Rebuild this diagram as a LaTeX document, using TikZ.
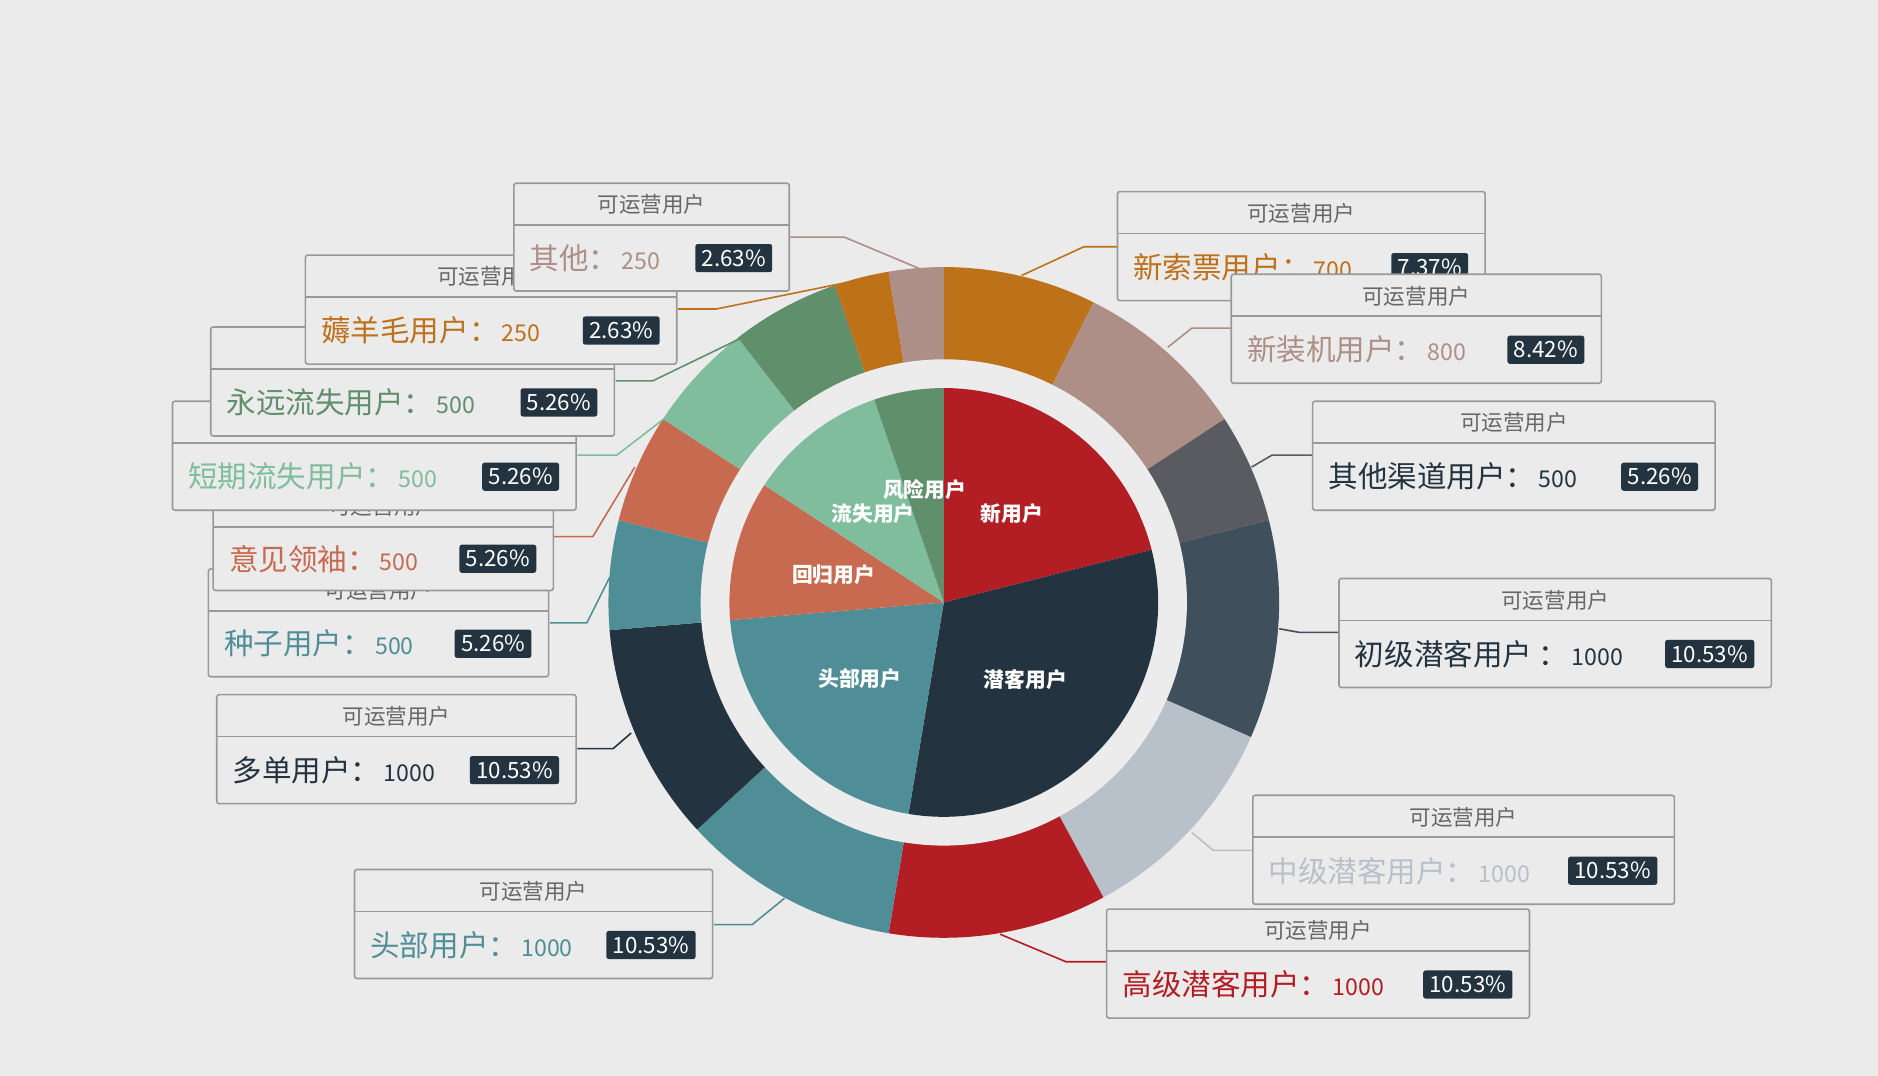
\documentclass[tikz,border=0pt]{standalone}
\usepackage{fontspec}
\setmainfont{Noto Sans CJK SC}
\definecolor{bg}{HTML}{EBEBEB}
\definecolor{cA}{HTML}{BD7119}
\definecolor{cB}{HTML}{AE8F87}
\definecolor{cC}{HTML}{5A5B60}
\definecolor{cD}{HTML}{3F4F5B}
\definecolor{cE}{HTML}{B8C0CA}
\definecolor{cF}{HTML}{B31D24}
\definecolor{cG}{HTML}{4F8E97}
\definecolor{cH}{HTML}{233440}
\definecolor{cI}{HTML}{C76A50}
\definecolor{cJ}{HTML}{7FBD9D}
\definecolor{cK}{HTML}{5F8F6B}
\tikzset{
  lblbox/.style={draw=black!40,fill=bg,line width=1pt,rounded corners=1.5pt},
  hdr/.style={text=black!60,font=\fontsize{13.5}{14}\selectfont},
  badge/.style={fill=cH,text=white,inner xsep=4pt,inner ysep=3.5pt,rounded corners=1.5pt,font=\fontsize{14}{15}\selectfont},
  inlbl/.style={text=white,font=\bfseries\fontsize{13}{14}\selectfont}
}
\newcommand{\sect}[4]{\fill[#4] (0,0) -- (#2:#1) arc[start angle=#2,end angle=#3,radius=#1] -- cycle;}
\newcommand{\lblb}[9]{%
  \draw[lblbox] (#2,#3) rectangle (#4,#5);
  \draw[black!40,line width=1pt] (#2,#3+35) -- (#4,#3+35);
  \node[hdr] (#1h) at ({(#2+#4)/2},#3+18) {可运营用户};
  \node[anchor=west,inner sep=0pt] (#1n) at (#2+13,{(#3+35+#5)/2}) {\textcolor{#6}{\fontsize{18.5}{19}\selectfont #7}\hspace{2pt}\textcolor{#6}{\fontsize{14.5}{15}\selectfont #8}};
  \node[badge,anchor=east] (#1b) at (#4-14,{(#3+35+#5)/2}) {#9};
}
\begin{document}
\begin{tikzpicture}[x=0.75pt,y=-0.75pt]
\fill[bg] (0,0) rectangle (1568,898);
\useasboundingbox (0,0) rectangle (1568,898);
\begin{scope}[shift={(788,503)},y=0.75pt]
\sect{280}{90}{63.474}{cA}
\sect{280}{63.474}{33.158}{cB}
\sect{280}{33.158}{14.211}{cC}
\sect{280}{14.211}{-23.684}{cD}
\sect{280}{-23.684}{-61.579}{cE}
\sect{280}{-61.579}{-99.474}{cF}
\sect{280}{-99.474}{-137.368}{cG}
\sect{280}{-137.368}{-175.263}{cH}
\sect{280}{-175.263}{-194.211}{cG}
\sect{280}{-194.211}{-213.158}{cI}
\sect{280}{-213.158}{-232.105}{cJ}
\sect{280}{-232.105}{-251.053}{cK}
\sect{280}{-251.053}{-260.526}{cA}
\sect{280}{-260.526}{-270}{cB}
\fill[bg!95!white] (0,0) circle (203);
\sect{179}{90}{14.211}{cF}
\sect{179}{14.211}{-99.474}{cH}
\sect{179}{-99.474}{-175.263}{cG}
\sect{179}{-175.263}{-213.158}{cI}
\sect{179}{-213.158}{-251.053}{cJ}
\sect{179}{-251.053}{-270}{cK}
\end{scope}
\node[inlbl] (i1) at (845,429) {新用户};
\node[inlbl] (i2) at (856,567) {潜客用户};
\node[inlbl] (i3) at (718,567) {头部用户};
\node[inlbl] (i4) at (696,480) {回归用户};
\node[inlbl] (i5) at (729,429) {流失用户};
\node[inlbl] (i6) at (772,409) {风险用户};
\begin{scope}[line width=1pt]
\draw[cB] (767,224) -- (705,198) -- (660,198);
\draw[cA] (716,234) -- (598,258) -- (566,258);
\draw[cK] (640,272) -- (545,318) -- (514,318);
\draw[cJ] (580,330) -- (515,380) -- (482,380);
\draw[cI] (530,390) -- (495,448) -- (462,448);
\draw[cG] (509,482) -- (490,520) -- (459,520);
\draw[cH] (527,612) -- (512,625) -- (482,625);
\draw[cG] (655,750) -- (628,772) -- (596,772);
\draw[cF] (835,780) -- (890,803) -- (925,803);
\draw[cE] (995,695) -- (1013,710) -- (1047,710);
\draw[cC] (1045,390) -- (1062,380) -- (1096,380);
\draw[cD] (1068,525) -- (1085,528) -- (1118,528);
\draw[cB] (975,290) -- (995,274) -- (1028,274);
\draw[cA] (853,230) -- (905,206) -- (933,206);
\end{scope}
\lblb{s}{174}{475}{458}{565}{cG}{种子用户：}{500}{5.26\%}
\lblb{y}{178}{405}{462}{493}{cI}{意见领袖：}{500}{5.26\%}
\lblb{d}{144}{335}{481}{426}{cJ}{短期流失用户：}{500}{5.26\%}
\lblb{l}{176}{273}{513}{364}{cK}{永远流失用户：}{500}{5.26\%}
\lblb{h}{255}{213}{565}{304}{cA}{薅羊毛用户：}{250}{2.63\%}
\lblb{q}{429}{153}{659}{243}{cB}{其他：}{250}{2.63\%}
\lblb{m}{181}{580}{481}{671}{cH}{多单用户：}{1000}{10.53\%}
\lblb{t}{296}{726}{595}{817}{cG}{头部用户：}{1000}{10.53\%}
\lblb{g}{924}{759}{1277}{850}{cF}{高级潜客用户：}{1000}{10.53\%}
\lblb{z}{1046}{664}{1398}{755}{cE}{中级潜客用户：}{1000}{10.53\%}
\lblb{c}{1118}{483}{1479}{574}{cH}{初级潜客用户 ：}{1000}{10.53\%}
\lblb{o}{1096}{335}{1432}{426}{cH}{其他渠道用户：}{500}{5.26\%}
\lblb{x}{933}{160}{1240}{251}{cA}{新索票用户：}{700}{7.37\%}
\lblb{j}{1028}{229}{1337}{320}{cB}{新装机用户：}{800}{8.42\%}
\end{tikzpicture}
\end{document}
